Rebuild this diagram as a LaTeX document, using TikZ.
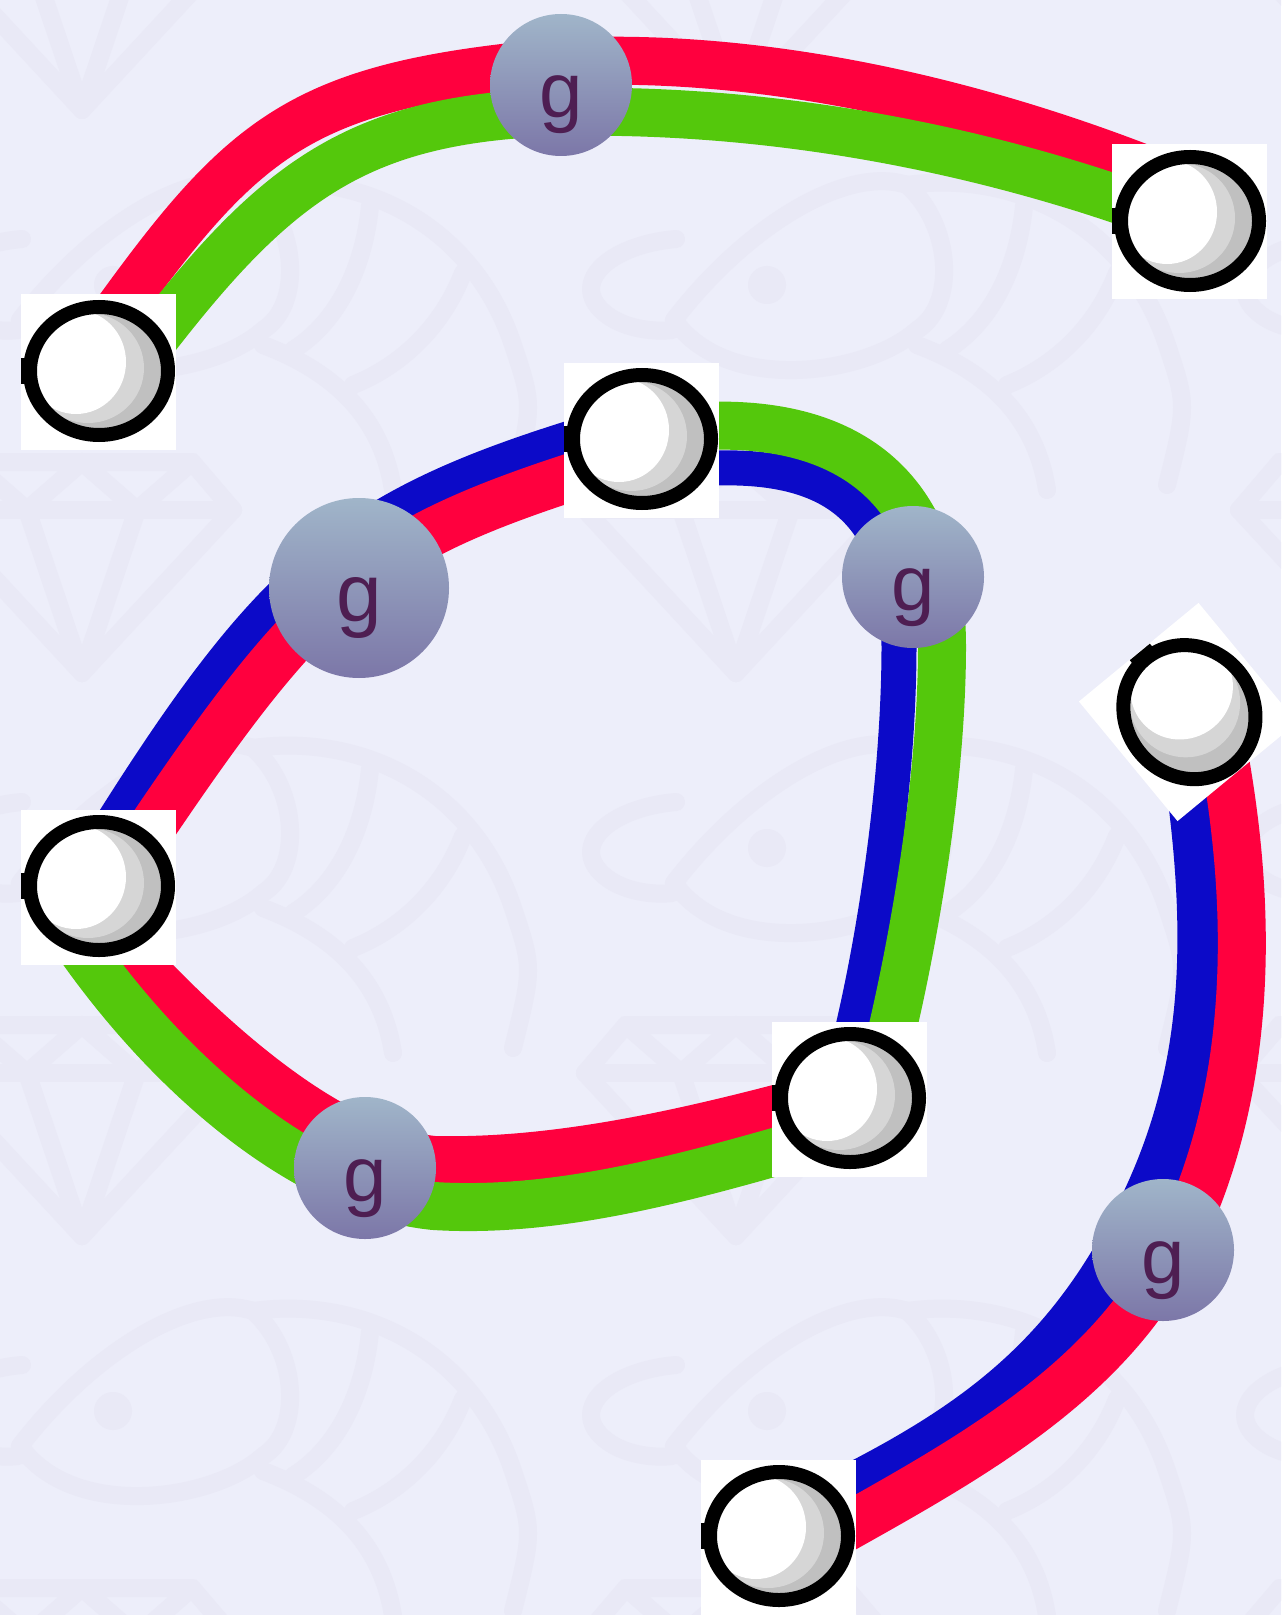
\documentclass[tikz,border=0pt]{standalone}
\usepackage{fontspec}
\setmainfont{Liberation Sans}
\definecolor{bgcol}{RGB}{237,238,250}
\definecolor{patc}{RGB}{233,233,246}
\definecolor{cred}{RGB}{255,0,62}
\definecolor{cgreen}{RGB}{84,200,12}
\definecolor{cblue}{RGB}{12,10,200}
\definecolor{gtop}{RGB}{160,181,201}
\definecolor{gbot}{RGB}{124,119,168}
\definecolor{gtext}{RGB}{78,30,82}
\definecolor{ballA}{RGB}{192,192,192}
\definecolor{ballB}{RGB}{214,214,214}
\pgfdeclarelayer{bgl}
\pgfdeclarelayer{edges}
\pgfsetlayers{bgl,edges,main}
\tikzset{
  band/.style={line width=24pt, line cap=butt},
  thinband/.style={line width=17.5pt, line cap=butt},
  ballbox/.style={rectangle, fill=white, minimum size=77.5pt, inner sep=0pt, draw=none},
  ballring/.style={line width=7pt, draw=black},
  gnode/.style={circle, minimum size=71pt, inner sep=0pt, top color=gtop, bottom color=gbot, draw=none,
     text=gtext, font=\fontsize{39}{39}\selectfont, text height=36pt, text depth=3pt},
  gbig/.style={gnode, minimum size=90pt, font=\fontsize{41}{41}\selectfont},
  pat/.style={draw=patc, line width=9pt, line cap=round, line join=round},
  fish/.pic={
    \draw[pat] (-93,35) .. controls (-20,-60) and (80,-120) .. (140,-100)
       .. controls (185,-60) and (190,20) .. (150,45)
       .. controls (100,90) and (-40,110) .. cycle;
    \fill[patc] (0,0) circle (19);
    \draw[pat] (140,-100) .. controls (250,-115) and (360,-60) .. (400,60)
       .. controls (420,120) .. (400,200);
    \draw[pat] (150,60) .. controls (230,90) and (270,140) .. (280,205);
    \draw[pat] (257,-79) .. controls (250,-10) and (220,40) .. (180,65);
    \draw[pat] (350,-12) .. controls (330,40) and (290,80) .. (240,100);
    \draw[pat] (-91,-46) .. controls (-160,-40) and (-200,0) .. (-160,30)
       .. controls (-140,45) and (-110,47) .. (-95,45);
  },
  gem/.pic={
    \draw[pat] (0,0) -- (151,-163) -- (110,-211) -- (-110,-211) -- (-151,-163) -- cycle;
    \draw[pat] (-151,-163) -- (151,-163);
    \draw[pat] (-55,-163) -- (0,0) -- (55,-163);
    \draw[pat] (-110,-211) -- (-55,-163) -- (0,-211) -- (55,-163) -- (110,-211);
  },
}
\newcommand\ballnode[4]{%
  \node[ballbox, rotate=#4] (#1) at (#2,#3) {};
  \begin{scope}[shift={(#1.center)}, rotate=#4]
    \begin{scope}
      \clip (1,-1) ellipse [x radius=63, y radius=58];
      \fill[ballA] (1,-1) ellipse [x radius=63, y radius=58];
      \fill[ballB] (-10,-4) ellipse [x radius=56, y radius=55];
      \fill[white] (-22,-10) ellipse [x radius=50, y radius=52];
    \end{scope}
    \draw[ballring] (1,-1) ellipse [x radius=69, y radius=64];
    \fill[black] (-77,-14) rectangle (-68,12);
  \end{scope}
}
\begin{document}
\begin{tikzpicture}[x=0.5pt,y=-0.5pt]
\useasboundingbox (0,0) rectangle (1281,1615);
\begin{pgfonlayer}{bgl}
\fill[bgcol] (0,0) rectangle (1281,1615);
\begin{scope}
\clip (0,0) rectangle (1281,1615);
\foreach \i in {-1,0,1,2} {
  \foreach \j in {-1,0,1,2,3} {
    \pic at ({113+654*\i},{285+563*\j}) {fish};
    \pic at ({82+654*\i},{110+563*\j}) {gem};
  }
}
\end{scope}
\end{pgfonlayer}

% nodes
\ballnode{A}{1189}{222}{0}
\ballnode{B}{98}{372}{0}
\ballnode{C}{641}{440}{0}
\ballnode{D}{98}{887}{0}
\ballnode{E}{849}{1099}{0}
\ballnode{F}{1188}{712}{-50.5}
\ballnode{G}{778}{1537}{0}

\node[gnode] (g1) at (561,85) {g};
\node[gbig]  (g2) at (359,588) {g};
\node[gnode] (g3) at (913,577) {g};
\node[gnode] (g4) at (365,1168) {g};
\node[gnode] (g5) at (1163,1250) {g};

\begin{pgfonlayer}{edges}
% top: B -> g1 -> A
\draw[band, cred] ([shift={(8,-45)}]B.center) .. controls (245,133) and (300,85) .. ([shift={(0,-23)}]g1.center)
   .. controls (761,52) and (974,101) .. ([shift={(-29,-47)}]A.center);
\draw[band, cgreen] ([shift={(53,-29)}]B.center) .. controls (279,177) and (361,118) .. ([shift={(0,27)}]g1.center)
   .. controls (761,108) and (961,144) .. ([shift={(-49,-15)}]A.center);
% middle: D -> g2 -> C
\draw[thinband, cblue] ([shift={(5,-49)}]D.center) .. controls (273,566) and (350,504) .. ([shift={(-41,-11)}]C.center);
\draw[band, cred] ([shift={(50,-54)}]D.center) .. controls (316,584) and (372,540) .. ([shift={(-41,28)}]C.center);
% C -> g3 -> E
\draw[thinband, cblue] ([shift={(44,30)}]C.center) .. controls (845,455) and (897,520) .. ([shift={(-14,69)}]g3.center)
   .. controls (899,780) and (875,944) .. ([shift={(-4,-39)}]E.center);
\draw[band, cgreen] ([shift={(44,-13)}]C.center) .. controls (880,412) and (942,520) .. ([shift={(29,69)}]g3.center)
   .. controls (942,780) and (914,944) .. ([shift={(36,-39)}]E.center);
% D -> g4 -> E
\draw[band, cred] ([shift={(13,47)}]D.center) .. controls (198,1030) and (324,1149) .. ([shift={(69,-8)}]g4.center)
   .. controls (560,1163) and (694,1131) .. ([shift={(-39,1)}]E.center);
\draw[band, cgreen] ([shift={(-29,44)}]D.center) .. controls (164,1072) and (304,1193) .. ([shift={(69,38)}]g4.center)
   .. controls (560,1214) and (695,1175) .. ([shift={(-39,43)}]E.center);
% F -> g5 -> G
\draw[band, cblue] ([shift={(0,58)}]F.center) .. controls (1215,960) and (1205,1100) .. ([shift={(-40,-5)}]g5.center)
   .. controls (1050,1376) and (954,1438) .. ([shift={(41,-33)}]G.center);
\draw[band, cred] ([shift={(37,48)}]F.center) .. controls (1260,960) and (1240,1130) .. ([shift={(5,12)}]g5.center)
   .. controls (1095,1392) and (959,1464) .. ([shift={(42,5)}]G.center);
\end{pgfonlayer}
\end{tikzpicture}
\end{document}
